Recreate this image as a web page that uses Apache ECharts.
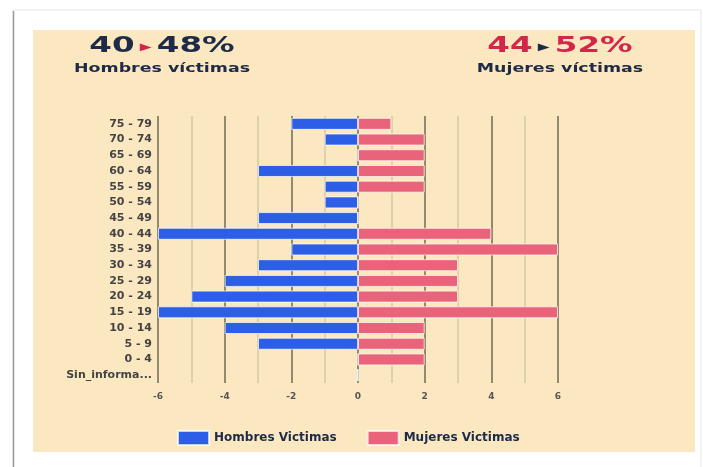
<!DOCTYPE html>
<html>
<head>
    <meta charset="UTF-8">
    <title>Víctimas por edad</title>
    <style>
        html, body { margin: 0; padding: 0; background: #fff; }
    </style>
</head>
<body>
<div id="container" style="width:703px;height:467px"></div>
<script type="text/javascript" src="https://cdn.jsdelivr.net/npm/echarts@6/dist/echarts.min.js"></script>
<script type="text/javascript">
    // grupos de edad (de arriba a abajo)
    var edades = ['75 - 79', '70 - 74', '65 - 69', '60 - 64', '55 - 59', '50 - 54', '45 - 49',
        '40 - 44', '35 - 39', '30 - 34', '25 - 29', '20 - 24', '15 - 19', '10 - 14',
        '5 - 9', '0 - 4', 'Sin_informacion'];
    var hombres = [-2, -1, 0, -3, -1, -1, -3, -6, -2, -3, -4, -5, -6, -4, -3, 0, -0.05];
    var mujeres = [1, 2, 2, 2, 2, 0, 0, 4, 6, 3, 3, 3, 6, 2, 2, 2, 0];
    var ticks = [-6, -4, -2, 0, 2, 4, 6];

    var azul = '#2d5fe6';
    var rosa = '#e9647a';
    var oscuro = '#1d2a48';
    var rojo = '#d3264a';
    var fuente = 'DejaVu Sans';

    var dom = document.getElementById("container");
    var myChart = echarts.init(dom);

    function cabecera(x, num, pct, colNum, colTri, sub) {
        return [{
            type: 'text',
            x: x, y: 47,
            scaleX: 1.55,
            style: {
                text: '{n|' + num + '} {t|▶} {n|' + pct + '}',
                align: 'center', verticalAlign: 'middle',
                rich: {
                    n: {fontSize: 21, fontFamily: fuente, fill: colNum, fontWeight: 'bold'},
                    t: {fontSize: 10, fontFamily: fuente, fill: colTri}
                }
            }
        }, {
            type: 'text',
            x: x, y: 69,
            scaleX: 1.45,
            style: {
                text: sub,
                align: 'center', verticalAlign: 'middle',
                fontSize: 12, fontWeight: 'bold', fontFamily: fuente, fill: oscuro
            }
        }];
    }

    var option = {
        backgroundColor: '#fff',
        animation: false,
        textStyle: {fontFamily: fuente},
        graphic: [
            {type: 'rect', shape: {x: 13, y: 10, width: 688, height: 460}, style: {fill: '#fff', stroke: '#e6e6e6', lineWidth: 1}, z: -10},
            {type: 'line', shape: {x1: 13.5, y1: 11, x2: 13.5, y2: 467}, style: {stroke: '#9a9a9a', lineWidth: 1.5}, z: -9},
            {type: 'rect', shape: {x: 33, y: 30, width: 662, height: 422}, style: {fill: '#fbe8c1'}, z: -8}
        ].concat(
            cabecera(162, '40', '48%', oscuro, rojo, 'Hombres víctimas'),
            cabecera(560, '44', '52%', rojo, oscuro, 'Mujeres víctimas')
        ),
        legend: {
            data: ['Hombres Victimas', 'Mujeres Victimas'],
            left: 172,
            top: 425,
            itemWidth: 31,
            itemHeight: 14,
            itemGap: 30,
            icon: 'rect',
            textStyle: {fontSize: 12, fontWeight: 'bold', color: oscuro, fontFamily: fuente}
        },
        grid: {left: 158, right: 145, top: 116, bottom: 84, containLabel: false},
        xAxis: {
            type: 'value',
            min: -6,
            max: 6,
            interval: 1,
            axisLine: {show: false},
            axisTick: {show: false},
            axisLabel: {
                margin: 9,
                fontSize: 9,
                fontWeight: 'bold',
                color: '#555',
                formatter: function (v) {
                    return ticks.indexOf(v) >= 0 ? String(v) : '';
                }
            },
            splitLine: {lineStyle: {color: ['#6f6b55', '#d3c9a6'], width: 1.5}}
        },
        yAxis: {
            type: 'category',
            data: edades,
            inverse: true,
            axisLine: {show: false, onZero: false},
            axisTick: {show: false},
            axisLabel: {
                margin: 6,
                fontSize: 11,
                fontWeight: 'bold',
                color: '#444',
                width: 93,
                overflow: 'truncate',
                ellipsis: '...'
            }
        },
        series: [{
            name: 'Hombres Victimas',
            type: 'bar',
            data: hombres,
            barWidth: 12,
            barGap: '-100%',
            itemStyle: {color: azul, borderColor: 'rgba(255,255,255,0.7)', borderWidth: 1}
        }, {
            name: 'Mujeres Victimas',
            type: 'bar',
            data: mujeres,
            barWidth: 12,
            itemStyle: {color: rosa, borderColor: 'rgba(255,255,255,0.7)', borderWidth: 1}
        }]
    };
    myChart.setOption(option);
</script>
</body>
</html>
